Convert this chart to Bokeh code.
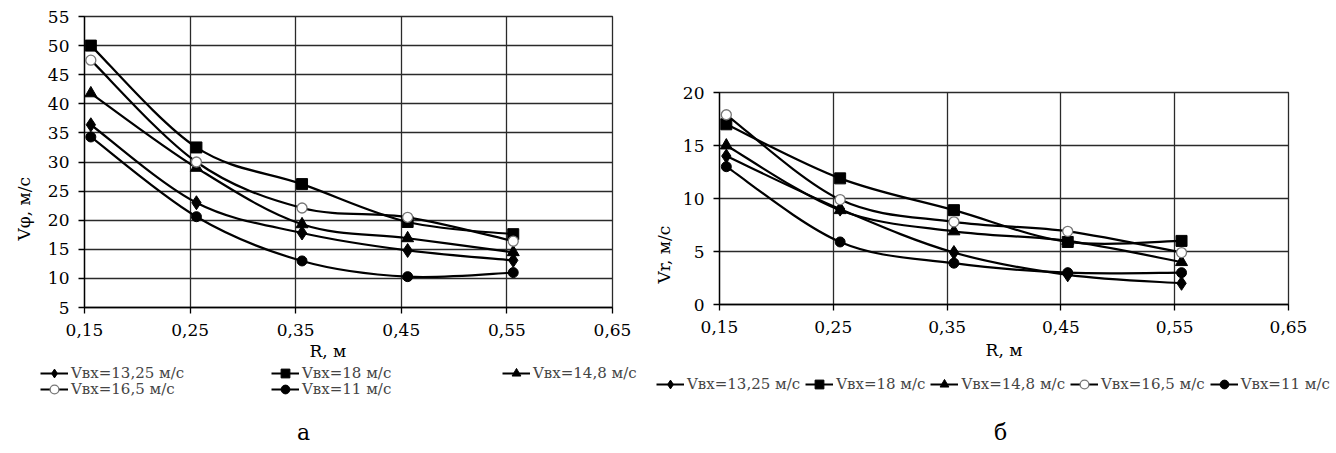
from bokeh.plotting import figure
from bokeh.models import (Range1d, FixedTicker, CustomJSTickFormatter, Title,
                          Legend, LegendItem, Label)
from bokeh.layouts import row, column
from bokeh.embed import file_html
from bokeh.resources import INLINE

# ---------------- data ----------------
r_values = [0.156, 0.256, 0.356, 0.456, 0.556]
x_ticks = [0.15, 0.25, 0.35, 0.45, 0.55, 0.65]
series_labels = ["Vвх=13,25 м/с", "Vвх=18 м/с", "Vвх=14,8 м/с",
                 "Vвх=16,5 м/с", "Vвх=11 м/с"]

# chart "а": tangential velocity V_phi, m/s
vphi_1325 = [36.4, 23.0, 17.8, 14.8, 13.1]
vphi_18 = [50.0, 32.5, 26.2, 19.7, 17.6]
vphi_148 = [41.8, 29.0, 19.3, 16.9, 14.5]
vphi_165 = [47.5, 30.0, 22.1, 20.5, 16.4]
vphi_11 = [34.3, 20.6, 13.0, 10.3, 11.0]
vphi_ticks = [5, 10, 15, 20, 25, 30, 35, 40, 45, 50, 55]

# chart "б": radial velocity V_r, m/s
vr_1325 = [14.0, 9.0, 4.9, 2.8, 2.0]
vr_18 = [17.0, 11.9, 8.9, 5.9, 6.0]
vr_148 = [15.0, 8.9, 6.9, 6.0, 4.0]
vr_165 = [17.9, 9.9, 7.8, 6.9, 4.9]
vr_11 = [13.0, 5.9, 3.9, 3.0, 3.0]
vr_ticks = [0, 5, 10, 15, 20]

FONT = "DejaVu Serif"
GRID = "#2a2a2a"

MARKERS = [
    dict(marker="diamond", size=14, fill_color="black", line_color="black"),
    dict(marker="square", size=11, fill_color="black", line_color="black"),
    dict(marker="triangle", size=12, fill_color="black", line_color="black"),
    dict(marker="circle", size=10, fill_color="white", line_color="#777777", line_width=1.3),
    dict(marker="circle", size=10, fill_color="black", line_color="black"),
]


def no_align(p):
    if "frame_align" in p.properties():
        p.frame_align = False


def smooth(xs, ys):
    """Bezier control points (Excel-like smoothed line) through the data points."""
    n = len(xs)
    d = dict(x0=[], y0=[], x1=[], y1=[], cx0=[], cy0=[], cx1=[], cy1=[])
    for i in range(n - 1):
        ip = max(i - 1, 0)
        inn = min(i + 2, n - 1)
        d["x0"].append(xs[i]); d["y0"].append(ys[i])
        d["x1"].append(xs[i + 1]); d["y1"].append(ys[i + 1])
        d["cx0"].append(xs[i] + (xs[i + 1] - xs[ip]) / 6.0)
        d["cy0"].append(ys[i] + (ys[i + 1] - ys[ip]) / 6.0)
        d["cx1"].append(xs[i + 1] - (xs[inn] - xs[i]) / 6.0)
        d["cy1"].append(ys[i + 1] - (ys[inn] - ys[i]) / 6.0)
    return d


def make_chart(width, height, bl, br, bt, bb, ymin, ymax, yticks):
    p = figure(width=width, height=height, output_backend="svg", toolbar_location=None,
               x_range=Range1d(0.15, 0.65), y_range=Range1d(ymin, ymax),
               min_border_left=bl, min_border_right=br,
               min_border_top=bt, min_border_bottom=bb)
    no_align(p)
    p.background_fill_color = "white"
    p.border_fill_color = "white"
    p.outline_line_color = GRID
    p.outline_line_width = 1.3
    p.xaxis.ticker = FixedTicker(ticks=x_ticks)
    p.xaxis.formatter = CustomJSTickFormatter(code="return tick.toFixed(2).replace('.', ',')")
    p.yaxis.ticker = FixedTicker(ticks=yticks)
    p.xgrid.ticker = FixedTicker(ticks=x_ticks)
    p.ygrid.ticker = FixedTicker(ticks=yticks)
    for g in (p.xgrid, p.ygrid):
        g.grid_line_color = GRID
        g.grid_line_width = 1.3
    for ax in (p.xaxis, p.yaxis):
        ax.axis_line_color = "black"
        ax.axis_line_width = 1.3
        ax.major_tick_line_color = "black"
        ax.major_tick_line_width = 1.3
        ax.major_tick_in = 0
        ax.major_tick_out = 6
        ax.minor_tick_line_color = None
        ax.major_label_text_font = FONT
        ax.major_label_text_font_size = "17px"
        ax.major_label_text_color = "black"
    p.xaxis.major_label_standoff = 10
    p.yaxis.major_label_standoff = 9
    return p


def draw_series(p, ys_list):
    for ys, mk in zip(ys_list, MARKERS):
        d = smooth(r_values, ys)
        p.bezier(x0=d["x0"], y0=d["y0"], x1=d["x1"], y1=d["y1"],
                 cx0=d["cx0"], cy0=d["cy0"], cx1=d["cx1"], cy1=d["cy1"],
                 line_color="black", line_width=2.2)
        p.scatter(r_values, ys, **mk)


def title(text, size="17px", align="center", offset=0, standoff=0):
    return Title(text=text, align=align, offset=offset, standoff=standoff,
                 text_font=FONT, text_font_size=size, text_font_style="normal",
                 text_color="black")


def make_legend_fig(width, height, ys_list):
    """Strip below a chart: its legend (series renderers lie outside the visible range)."""
    lf = figure(width=width, height=height, output_backend="svg", toolbar_location=None,
                x_range=Range1d(100, 101), y_range=Range1d(100, 101),
                x_axis_location=None, y_axis_location=None, min_border=0)
    no_align(lf)
    lf.grid.visible = False
    lf.outline_line_color = None
    lf.background_fill_color = "white"
    lf.border_fill_color = "white"
    items = []
    for ys, lab, mk in zip(ys_list, series_labels, MARKERS):
        lr = lf.line(r_values, ys, line_color="black", line_width=2)
        sr = lf.scatter(r_values, ys, **mk)
        items.append(LegendItem(label=lab, renderers=[lr, sr]))
    return lf, items


GH = 22  # legend glyph box height


def legend(items, x, y_center_from_top, fig_h, label_width, spacing, size="15px"):
    return Legend(items=items, orientation="horizontal",
                  location=(x, fig_h - y_center_from_top - GH / 2),
                  border_line_alpha=0, background_fill_alpha=0, padding=0, margin=0,
                  spacing=spacing, glyph_width=28, glyph_height=GH, label_standoff=3,
                  label_height=16, label_width=label_width,
                  label_text_font=FONT, label_text_font_size=size,
                  label_text_baseline="middle")


def letter(lf, x, y, text):
    lf.add_layout(Label(x=x, y=y, x_units="screen", y_units="screen", text=text,
                        text_font=FONT, text_font_size="22px", text_color="black",
                        text_align="center", text_baseline="middle"))


H_TOP = 361
H_BOT = 453 - H_TOP

# ---------------- chart "а" ----------------
W1 = 640
FL1, FR1, FT1, FB1 = 83, 612, 16, 307
p1 = make_chart(W1, H_TOP, FL1, W1 - FR1, FT1, H_TOP - FB1, 5, 55, vphi_ticks)
draw_series(p1, [vphi_1325, vphi_18, vphi_148, vphi_165, vphi_11])
p1.add_layout(title("Vφ, м/с", align="left", offset=FB1 - 240, standoff=22), "left")
p1.add_layout(title("R, м", align="left", offset=326 - FL1 - 18, standoff=0), "below")

l1, items1 = make_legend_fig(W1, H_BOT, [vphi_1325, vphi_18, vphi_148, vphi_165, vphi_11])
l1.add_layout(legend(items1[:3], 40, 373 - H_TOP, H_BOT, 200, 0))
l1.add_layout(legend(items1[3:], 40, 389 - H_TOP, H_BOT, 200, 0))
letter(l1, 303, 453 - 432, "а")

# ---------------- chart "б" ----------------
X2 = W1
W2 = 1336 - X2
FL2, FR2, FT2, FB2 = 719, 1288, 92, 306
p2 = make_chart(W2, H_TOP, FL2 - X2, X2 + W2 - FR2, FT2, H_TOP - FB2, 0, 20, vr_ticks)
draw_series(p2, [vr_1325, vr_18, vr_148, vr_165, vr_11])
p2.add_layout(title("Vr, м/с", align="left", offset=FB2 - 285, standoff=12), "left")
p2.add_layout(title("R, м", standoff=4), "below")

l2, items2 = make_legend_fig(W2, H_BOT, [vr_1325, vr_18, vr_148, vr_165, vr_11])
l2.add_layout(legend(items2, 656 - X2, 384 - H_TOP, H_BOT, 0, 5))
letter(l2, 1000 - X2, 453 - 432, "б")

layout = column(row(p1, p2), row(l1, l2))
open("out.html", "w").write(file_html(layout, INLINE))
